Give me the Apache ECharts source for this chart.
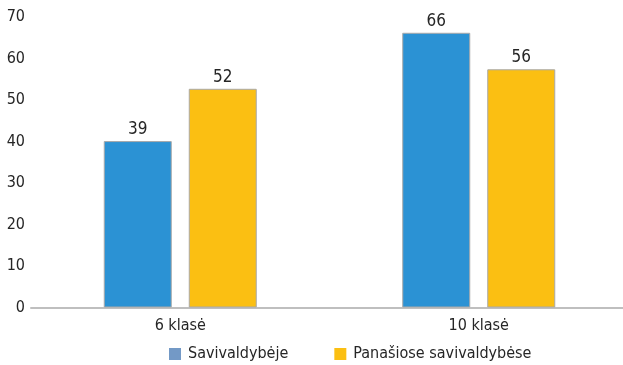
<!DOCTYPE html>
<html>
<head>
<meta charset="utf-8">
<script src="https://cdn.jsdelivr.net/npm/echarts@6/dist/echarts.min.js"></script>
<style>html,body{margin:0;padding:0;background:#fff}#c{width:623px;height:365px}</style>
</head>
<body>
<div id="c"></div>
<script>
const categories = ['6 klasė', '10 klasė'];
const seriesNames = ['Savivaldybėje', 'Panašiose savivaldybėse'];
const savivaldybejeBars = [40.1, 66.2];
const savivaldybejeLabels = [39, 66];
const panasioseBars = [52.7, 57.4];
const panasioseLabels = [52, 56];
const yTicks = [0, 10, 20, 30, 40, 50, 60, 70];

const FONT = '"DejaVu Sans Condensed", "Liberation Sans", sans-serif';
const chart = echarts.init(document.getElementById('c'), null, {renderer: 'canvas'});

function mk(name, bars, labels, color) {
  return {
    name: name,
    type: 'bar',
    barWidth: 68,
    barGap: '25%',
    data: bars,
    itemStyle: {color: color, borderColor: '#a9a9a9', borderWidth: 1},
    label: {
      show: true, position: 'top', distance: 3,
      fontFamily: FONT, fontSize: 17, color: '#262626',
      formatter: p => String(labels[p.dataIndex])
    },
    emphasis: {disabled: true}
  };
}

chart.setOption({
  animation: false,
  grid: {left: 31, width: 597, top: 17, height: 290.5, containLabel: false, outerBoundsMode: 'none'},
  legend: {
    top: 346, left: 169, padding: 0, itemWidth: 12, itemHeight: 12, itemGap: 46,
    icon: 'rect',
    textStyle: {fontFamily: FONT, fontSize: 16, color: '#262626', padding: [0, 0, 0, 2]},
    data: [
      {name: seriesNames[0], itemStyle: {color: '#7399c6', borderWidth: 0}},
      {name: seriesNames[1], itemStyle: {color: '#fbbf12', borderWidth: 0}}
    ]
  },
  xAxis: {
    type: 'category', data: categories,
    axisLine: {lineStyle: {color: '#bfbfbf', width: 2}},
    axisTick: {show: false},
    axisLabel: {fontFamily: FONT, fontSize: 16, color: '#262626', margin: 10}
  },
  yAxis: {
    type: 'value', min: 0, max: 70, interval: 10,
    axisLine: {show: false}, axisTick: {show: false},
    splitLine: {show: false},
    axisLabel: {fontFamily: FONT, fontSize: 16, color: '#262626', margin: 6,
      formatter: v => yTicks.includes(v) ? String(v) : ''}
  },
  series: [
    mk(seriesNames[0], savivaldybejeBars, savivaldybejeLabels, '#2b92d4'),
    mk(seriesNames[1], panasioseBars, panasioseLabels, '#fbbf12')
  ]
});
</script>
</body>
</html>
